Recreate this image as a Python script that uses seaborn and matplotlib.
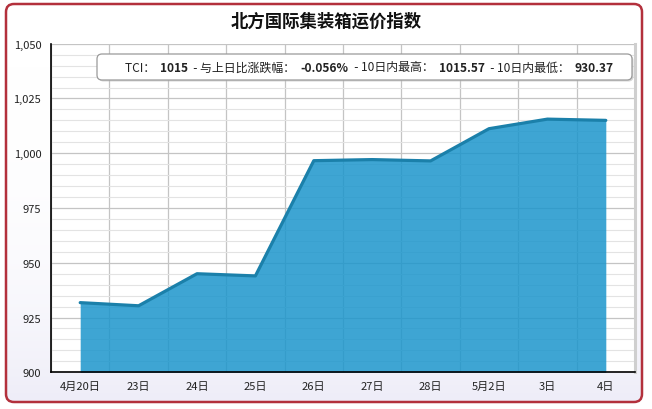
import matplotlib
matplotlib.use('Agg')
import matplotlib.pyplot as plt
import numpy as np
import pandas as pd
import seaborn as sns
from matplotlib.patches import FancyBboxPatch
from matplotlib.ticker import FuncFormatter, MultipleLocator, FixedLocator

# data
days = ['4月20日', '23日', '24日', '25日', '26日', '27日', '28日', '5月2日', '3日', '4日']
tci = [931.8, 930.37, 945.0, 944.0, 996.6, 997.1, 996.5, 1011.2, 1015.57, 1015.0]
title = '北方国际集装箱运价指数'
info_parts = [('TCI：  ', 'normal'), ('1015', 'bold'),
              ('  - 与上日比涨跌幅：  ', 'normal'), ('-0.056%', 'bold'),
              ('  - 10日内最高：  ', 'normal'), ('1015.57', 'bold'),
              ('  - 10日内最低：  ', 'normal'), ('930.37', 'bold')]

sns.set_style('white')
plt.rcParams['font.family'] = ['Noto Sans CJK SC', 'DejaVu Sans']

df = pd.DataFrame({'idx': np.arange(len(days)), 'tci': tci})

W, H = 652, 410
fig = plt.figure(figsize=(W / 100, H / 100), dpi=100)
fig.patch.set_facecolor('white')

# background with rounded red border
bg = fig.add_axes([0, 0, 1, 1], zorder=-5)
bg.set_xlim(0, W)
bg.set_ylim(H, 0)
bg.axis('off')
grad = np.linspace(0, 1, 256).reshape(-1, 1) ** 3
frame = FancyBboxPatch((6, 5), 636, 398, boxstyle='round,pad=0,rounding_size=8',
                       facecolor='none', edgecolor='#b3303c', linewidth=1.8)
img = bg.imshow(grad, extent=[6, 642, 403, 5], cmap=matplotlib.colors.LinearSegmentedColormap.from_list(
    'bgc', ['#ffffff', '#eeedf8']), aspect='auto', zorder=0)
bg.add_patch(frame)
img.set_clip_path(frame)

# plot area
x0, x1 = 51, 635
y0, y1 = 44.7, 373.3
ax = fig.add_axes([x0 / W, 1 - y1 / H, (x1 - x0) / W, (y1 - y0) / H])
ax.set_facecolor('white')
ax.set_axisbelow(True)

ax.fill_between(df['idx'], df['tci'], 900, color='#1c96cc', alpha=0.85, linewidth=0, zorder=2)
sns.lineplot(data=df, x='idx', y='tci', ax=ax, color='#1b80aa', linewidth=2.3, zorder=3,
             solid_joinstyle='round')

ax.set_xlim(-0.5, len(days) - 0.5)
ax.set_ylim(900, 1050)
ax.set_xlabel('')
ax.set_ylabel('')

ax.xaxis.set_major_locator(FixedLocator(np.arange(len(days))))
ax.set_xticklabels(days)
ax.xaxis.set_minor_locator(FixedLocator(np.arange(-0.5, len(days), 1.0)))
ax.tick_params(axis='x', which='major', length=0, pad=6, labelsize=8)
ax.tick_params(axis='x', which='minor', length=5, width=1, color='black', direction='out')

ax.yaxis.set_major_locator(MultipleLocator(25))
ax.yaxis.set_minor_locator(MultipleLocator(5))
ax.yaxis.set_major_formatter(FuncFormatter(lambda v, p: f'{int(v):,}'))
ax.tick_params(axis='y', which='major', length=5, width=1, color='black', direction='out',
               labelsize=8, pad=2)
ax.tick_params(axis='y', which='minor', length=0)

ax.grid(False)
ax.grid(axis='y', which='minor', color='#e3e3e3', linewidth=0.8)
ax.grid(axis='y', which='major', color='#c4c4c4', linewidth=0.9)
ax.grid(axis='x', which='minor', color='#c4c4c4', linewidth=0.9)
for lab in ax.get_xticklabels() + ax.get_yticklabels():
    lab.set_color('#222222')

ax.spines['top'].set_visible(False)
ax.spines['left'].set_color('black')
ax.spines['left'].set_linewidth(1.2)
ax.spines['bottom'].set_color('black')
ax.spines['bottom'].set_linewidth(1.2)
ax.spines['right'].set_color('#cfcfcf')
ax.spines['right'].set_linewidth(2.2)

fig.text(326 / W, 1 - 22 / H, title, ha='center', va='center', fontsize=12.5,
         fontweight='bold', color='#111111')

# info box
bx0, bx1, by0, by1 = 97, 632, 55, 81
shadow = FancyBboxPatch((bx0 + 1.5, by0 + 1.5), bx1 - bx0, by1 - by0,
                        boxstyle='round,pad=0,rounding_size=5', facecolor='#bbbbbb',
                        edgecolor='none', alpha=0.6, zorder=10)
box = FancyBboxPatch((bx0, by0), bx1 - bx0, by1 - by0, boxstyle='round,pad=0,rounding_size=5',
                     facecolor='white', edgecolor='#9a9a9a', linewidth=0.9, zorder=11)
top = fig.add_axes([0, 0, 1, 1], zorder=10)
top.set_xlim(0, W)
top.set_ylim(H, 0)
top.axis('off')
top.patch.set_alpha(0)
top.add_patch(shadow)
top.add_patch(box)

fig.canvas.draw()
renderer = fig.canvas.get_renderer()
xpos = 125
for txt, weight in info_parts:
    t = top.text(xpos, (by0 + by1) / 2, txt, ha='left', va='center', fontsize=8.6,
                 fontweight=weight, color='#222222', zorder=12)
    ext = t.get_window_extent(renderer=renderer)
    xpos += ext.width

fig.savefig('out.png', dpi=100)
